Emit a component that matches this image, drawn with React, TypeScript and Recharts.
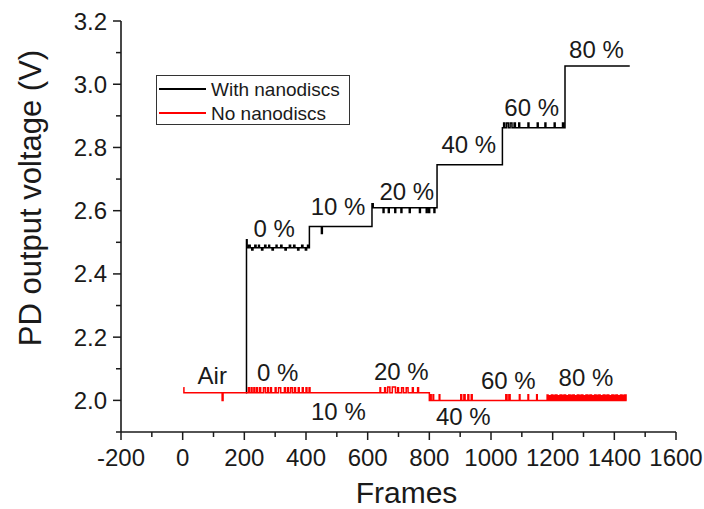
import React from "react";
import { LineChart, Line, XAxis, YAxis, Legend, ReferenceDot } from "recharts";

const FONT = "'Liberation Sans', Arial, Helvetica, sans-serif";
const INK = "#1a1a1a";

// axis ticks
const frameTicks = [-200, -100, 0, 100, 200, 300, 400, 500, 600, 700, 800, 900, 1000, 1100, 1200, 1300, 1400, 1500, 1600];
const frameLabels = [-200, 0, 200, 400, 600, 800, 1000, 1200, 1400, 1600];
const voltTicks = [1.9, 2.0, 2.1, 2.2, 2.3, 2.4, 2.5, 2.6, 2.7, 2.8, 2.9, 3.0, 3.1, 3.2];
const voltLabels = [2.0, 2.2, 2.4, 2.6, 2.8, 3.0, 3.2];

const seriesNames = ["With nanodiscs", "No nanodiscs"];
const seriesColors = ["#000000", "#ff0000"];

// [frame, volt] (step after each point)
const withNanodiscs: [number, number][] = [
  [205, 2.024], [207, 2.508], [209, 2.483],
  [214, 2.491], [219, 2.483], [224, 2.476], [228, 2.483], [234, 2.491], [238, 2.483], [246, 2.491], [249, 2.483],
  [256, 2.476], [260, 2.483], [266, 2.491], [270, 2.483], [279, 2.491], [282, 2.483], [290, 2.476], [294, 2.483],
  [303, 2.491], [306, 2.483], [318, 2.491], [322, 2.483], [332, 2.476], [336, 2.483], [346, 2.491], [350, 2.483],
  [360, 2.491], [364, 2.483], [373, 2.476], [377, 2.483], [386, 2.491], [390, 2.483], [398, 2.476], [402, 2.483],
  [405, 2.491], [409, 2.483],
  [411, 2.55], [450, 2.528], [453, 2.55],
  [614, 2.622], [618, 2.609], [650, 2.594], [653, 2.609], [667, 2.594], [670, 2.609], [688, 2.594], [691, 2.609],
  [708, 2.594], [711, 2.609], [735, 2.594], [738, 2.609], [768, 2.594], [771, 2.609], [790, 2.594], [793, 2.609],
  [798, 2.594], [801, 2.609], [815, 2.594], [818, 2.609],
  [825, 2.745],
  [1037, 2.862], [1041, 2.877], [1044, 2.862], [1050, 2.877], [1056, 2.862], [1062, 2.877], [1068, 2.862],
  [1075, 2.877], [1079, 2.862], [1090, 2.877], [1093, 2.862], [1120, 2.877], [1123, 2.862], [1150, 2.877],
  [1153, 2.862], [1175, 2.877], [1178, 2.862], [1205, 2.877], [1208, 2.862], [1232, 2.877], [1235, 2.862],
  [1240, 3.058], [1450, 3.058],
];

const noNanodiscs: [number, number][] = [
  [2, 2.04], [4, 2.024], [128, 2.0], [131, 2.024],
  [213, 2.04], [216, 2.024], [222, 2.04], [225, 2.024], [231, 2.04], [234, 2.024], [240, 2.04], [243, 2.024],
  [250, 2.04], [253, 2.024], [262, 2.04], [268, 2.024], [275, 2.04], [278, 2.024], [285, 2.04], [288, 2.024],
  [300, 2.04], [303, 2.024], [311, 2.04], [318, 2.024], [330, 2.04], [333, 2.024], [340, 2.04], [343, 2.024],
  [350, 2.04], [356, 2.024], [363, 2.04], [366, 2.024], [375, 2.04], [378, 2.024], [388, 2.04], [391, 2.024],
  [400, 2.04], [403, 2.024], [410, 2.04], [413, 2.024],
  [640, 2.04], [642, 2.024], [655, 2.04], [658, 2.024], [665, 2.042], [672, 2.024], [680, 2.042], [690, 2.024],
  [697, 2.04], [700, 2.024], [710, 2.04], [716, 2.024], [725, 2.04], [731, 2.024], [745, 2.04], [748, 2.024],
  [762, 2.04], [765, 2.024],
  [800, 2.0],
  [804, 2.018], [806, 2.0], [812, 2.018], [814, 2.0], [832, 2.018], [834, 2.0], [902, 2.018], [905, 2.0],
  [912, 2.018], [916, 2.0], [925, 2.018], [928, 2.0], [936, 2.018], [939, 2.0],
  [1048, 2.018], [1052, 2.0], [1058, 2.018], [1062, 2.0], [1092, 2.018], [1094, 2.0], [1120, 2.018], [1122, 2.0],
  [1148, 2.018], [1150, 2.0],
  [1182, 2.017], [1185, 2.0], [1189, 2.015], [1193, 2.0], [1196, 2.017], [1199, 2.0], [1203, 2.016], [1207, 2.0],
  [1210, 2.017], [1214, 2.0], [1217, 2.015], [1220, 2.0], [1224, 2.017], [1228, 2.0], [1231, 2.016], [1234, 2.0],
  [1238, 2.017], [1242, 2.0], [1245, 2.015], [1248, 2.0], [1252, 2.017], [1256, 2.0], [1259, 2.016], [1262, 2.0],
  [1266, 2.017], [1270, 2.0], [1273, 2.015], [1276, 2.0], [1280, 2.017], [1284, 2.0], [1287, 2.016], [1290, 2.0],
  [1294, 2.017], [1298, 2.0], [1301, 2.015], [1304, 2.0], [1308, 2.017], [1312, 2.0], [1315, 2.016], [1318, 2.0],
  [1322, 2.017], [1326, 2.0], [1329, 2.015], [1332, 2.0], [1336, 2.017], [1340, 2.0], [1343, 2.016], [1346, 2.0],
  [1350, 2.017], [1354, 2.0], [1357, 2.015], [1360, 2.0], [1364, 2.017], [1368, 2.0], [1371, 2.016], [1374, 2.0],
  [1378, 2.017], [1382, 2.0], [1385, 2.015], [1388, 2.0], [1392, 2.017], [1396, 2.0], [1399, 2.016], [1402, 2.0],
  [1406, 2.017], [1410, 2.0], [1413, 2.015], [1416, 2.0], [1420, 2.017], [1424, 2.0], [1427, 2.016], [1430, 2.0],
  [1434, 2.017], [1438, 2.0], [1440, 2.0],
];

// concentration labels: [text, frame, volt]
const withLabels: [string, number, number][] = [
  ["0 %", 297, 2.543], ["10 %", 504, 2.612], ["20 %", 727, 2.66],
  ["40 %", 928, 2.81], ["60 %", 1132, 2.925], ["80 %", 1342, 3.11],
];
const noLabels: [string, number, number][] = [
  ["Air", 96, 2.079], ["0 %", 308, 2.088], ["20 %", 709, 2.092], ["10 %", 505, 1.965],
  ["40 %", 910, 1.95], ["60 %", 1056, 2.063], ["80 %", 1308, 2.073],
];

const toRows = (pts: [number, number][]) => pts.map(([frame, volt]) => ({ frame, volt }));

const BottomTick = (props: any) => {
  const { x, y, payload } = props;
  const major = frameLabels.includes(payload.value);
  return (
    <g>
      <line x1={x} y1={y} x2={x} y2={y + (major ? 8 : 5)} stroke={INK} strokeWidth={1.5} />
      {major && (
        <text x={x} y={y + 34} textAnchor="middle" fontSize={24} fontFamily={FONT} fill={INK}>
          {payload.value}
        </text>
      )}
    </g>
  );
};

const TopTick = (props: any) => {
  const { x, y, payload } = props;
  const major = frameLabels.includes(payload.value);
  return <line x1={x} y1={y} x2={x} y2={y + (major ? 8 : 5)} stroke={INK} strokeWidth={1.5} />;
};

const LeftTick = (props: any) => {
  const { x, y, payload } = props;
  const major = voltLabels.includes(payload.value);
  return (
    <g>
      <line x1={x} y1={y} x2={x - (major ? 8 : 5)} y2={y} stroke={INK} strokeWidth={1.5} />
      {major && (
        <text x={x - 14} y={y + 8.5} textAnchor="end" fontSize={24} fontFamily={FONT} fill={INK}>
          {payload.value.toFixed(1)}
        </text>
      )}
    </g>
  );
};

const RightTick = (props: any) => {
  const { x, y, payload } = props;
  const major = voltLabels.includes(payload.value);
  return <line x1={x} y1={y} x2={x - (major ? 8 : 5)} y2={y} stroke={INK} strokeWidth={1.5} />;
};

const LegendBox = (props: any) => {
  const items = [...(props.payload || [])].sort(
    (a: any, b: any) => seriesNames.indexOf(a.value) - seriesNames.indexOf(b.value)
  );
  return (
    <div
      style={{
        width: 194,
        height: 50,
        boxSizing: "border-box",
        border: "1px solid #333",
        background: "#fff",
        paddingTop: 1,
        fontFamily: FONT,
      }}
    >
      {items.map((item: any) => (
        <div key={item.value} style={{ display: "flex", alignItems: "center", height: 24 }}>
          <div style={{ width: 47, marginLeft: 2, borderTop: `2px solid ${item.color}` }} />
          <span style={{ marginLeft: 5, fontSize: 19, lineHeight: "19px", color: INK }}>{item.value}</span>
        </div>
      ))}
    </div>
  );
};

const axisLine = { stroke: INK, strokeWidth: 1.6 };

export default function App() {
  return (
    <div style={{ position: "absolute", left: 0, top: 0, width: 704, height: 509, background: "#fff" }}>
      <LineChart width={704} height={509} margin={{ top: 21, right: 28, bottom: 0, left: 0 }}>
        <XAxis
          type="number"
          dataKey="frame"
          domain={[-200, 1600]}
          ticks={frameTicks}
          interval={0}
          allowDataOverflow
          height={77}
          tickSize={0}
          tickMargin={0}
          tickLine={false}
          axisLine={axisLine}
          tick={<BottomTick />}
          label={{ value: "Frames", position: "insideBottom", offset: 6, dx: 8, fontSize: 30, fill: INK, fontFamily: FONT }}
        />
        <XAxis
          xAxisId="top"
          orientation="top"
          type="number"
          domain={[-200, 1600]}
          ticks={frameTicks}
          interval={0}
          height={0}
          tickSize={0}
          tickMargin={0}
          tickLine={false}
          axisLine={axisLine}
          tick={<TopTick />}
        />
        <YAxis
          type="number"
          domain={[1.9, 3.2]}
          ticks={voltTicks}
          interval={0}
          allowDataOverflow
          width={121}
          tickSize={0}
          tickMargin={0}
          tickLine={false}
          axisLine={axisLine}
          tick={<LeftTick />}
          label={{
            content: () => (
              <text
                x={30}
                y={198}
                transform="rotate(-90 30 198)"
                textAnchor="middle"
                dominantBaseline="central"
                fontSize={31}
                fontFamily={FONT}
                fill={INK}
              >
                PD output voltage (V)
              </text>
            ),
          }}
        />
        <YAxis
          yAxisId="right"
          orientation="right"
          type="number"
          domain={[1.9, 3.2]}
          ticks={voltTicks}
          interval={0}
          width={0}
          tickSize={0}
          tickMargin={0}
          tickLine={false}
          axisLine={axisLine}
          tick={<RightTick />}
        />
        <Legend
          layout="vertical"
          align="center"
          verticalAlign="middle"
          wrapperStyle={{ left: 156, top: 75, width: 194 }}
          content={<LegendBox />}
        />
        <Line
          data={toRows(withNanodiscs)}
          dataKey="volt"
          name={seriesNames[0]}
          type="stepAfter"
          stroke={seriesColors[0]}
          strokeWidth={1.5}
          dot={false}
          isAnimationActive={false}
        />
        <Line
          data={toRows(noNanodiscs)}
          dataKey="volt"
          name={seriesNames[1]}
          type="stepAfter"
          stroke={seriesColors[1]}
          strokeWidth={1.5}
          dot={false}
          isAnimationActive={false}
        />
        {withLabels.concat(noLabels).map(([text, frame, volt], i) => (
          <ReferenceDot
            key={i}
            x={frame}
            y={volt}
            r={0}
            fill="none"
            stroke="none"
            label={{ value: text, position: "center", fontSize: 24, fill: INK, fontFamily: FONT }}
          />
        ))}
      </LineChart>
    </div>
  );
}
